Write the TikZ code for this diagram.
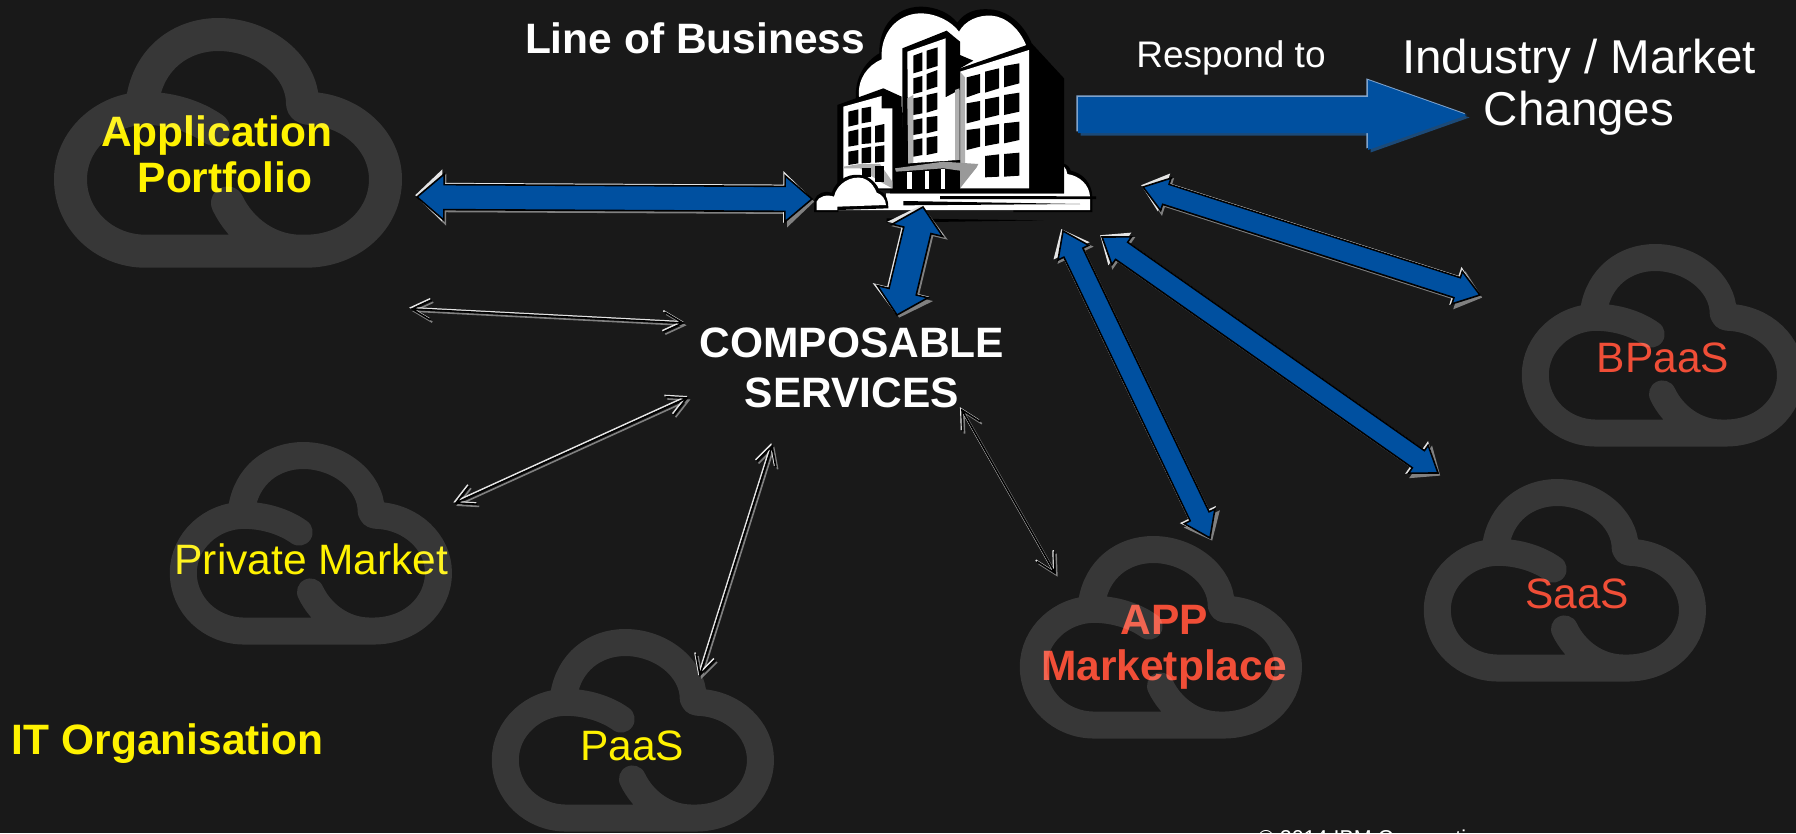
\documentclass[tikz,border=0pt]{standalone}
\usepackage{fontspec}
\setmainfont{Liberation Sans}
\usetikzlibrary{calc}
\definecolor{bgc}{HTML}{191919}
\definecolor{blueA}{HTML}{0050A0}
\definecolor{hiA}{HTML}{E4E4E4}
\definecolor{loA}{HTML}{808080}
\definecolor{hiB}{HTML}{7FA3CC}
\definecolor{loB}{HTML}{1C4A78}
\definecolor{redT}{HTML}{F04E37}
\definecolor{bldgray}{HTML}{B0B0B0}
\tikzset{
  x=1pt,y=-1pt,
  lab/.style={inner sep=0pt,outer sep=0pt,align=center,font=\fontsize{42.5}{46}\selectfont},
  labb/.style={lab,font=\fontsize{42.5}{46}\selectfont\bfseries},
}
% cloud outline: left, top of the outer box, scale, line width
\newcommand\cloudicon[4]{%
  \begin{scope}[shift={({#1+#4/2-69*#3},{#2+#4/2-32.5*#3})},xscale=#3,yscale=#3*.985]
  \draw[draw=white,draw opacity=.135,line width=#4pt,line cap=round,line join=round]
    (142,100) .. controls (148,58) and (180,33) .. (218,33)
    .. controls (262,33) and (302,65) .. (302,103)
    .. controls (302,106) and (305,108) .. (309,108)
    .. controls (352,110) and (385,142) .. (385,180)
    .. controls (385,221) and (350,253) .. (305,253)
    -- (145,253)
    .. controls (104,253) and (70,221) .. (70,180)
    .. controls (70,140) and (105,108) .. (145,108)
    .. controls (170,108) and (195,116) .. (213,129)
    (300,253) .. controls (268,253) and (240,232) .. (227,204);
  \end{scope}}
\newcommand\getvec[2]{%
  \path let \p1=($(#2)-(#1)$), \n1={veclen(\x1,\y1)}, \n2={atan2(\y1,\x1)} in
    \pgfextra{\pgfmathsetmacro\tmpL{\n1}\global\let\vecL\tmpL\pgfmathsetmacro\tmpA{\n2}\global\let\vecA\tmpA};}
% double block arrow: from, to, shaft half, head half, head length
\newcommand\dblshape[3]{%
  (0,0) -- (#3,-#2) -- (#3,-#1) -- (\vecL-#3,-#1) -- (\vecL-#3,-#2) -- (\vecL,0)
  -- (\vecL-#3,#2) -- (\vecL-#3,#1) -- (#3,#1) -- (#3,#2) -- cycle}
\newcommand\blockarrow[5]{%
  \getvec{#1}{#2}%
  \pgfmathsetmacro\hb{#4+3}%
  \begin{scope}[shift={($(#1)+(2.2,2.6)$)},rotate=\vecA]
    \fill[loA] \dblshape{#3}{\hb}{#5};
  \end{scope}
  \begin{scope}[shift={($(#1)+(-1.8,-1.8)$)},rotate=\vecA]
    \fill[hiA] \dblshape{#3}{\hb}{#5};
  \end{scope}
  \begin{scope}[shift={(#1)},rotate=\vecA]
    \draw[fill=blueA,draw=black,line width=1.6pt,line join=miter] \dblshape{#3}{#4}{#5};
  \end{scope}}
% thin double arrow with open heads
\newcommand\thinpath[2]{%
  (0,0) -- (\vecL,0) (#2,-#1) -- (0,0) -- (#2,#1) (\vecL-#2,-#1) -- (\vecL,0) -- (\vecL-#2,#1)}
\newcommand\thinarrow[2]{%
  \getvec{#1}{#2}%
  \begin{scope}[shift={($(#1)+(1.8,2.2)$)},rotate=\vecA]
    \draw[loA,line width=1.6pt] \thinpath{10}{19};
  \end{scope}
  \begin{scope}[shift={($(#1)+(-1.2,-1.3)$)},rotate=\vecA]
    \draw[hiA,line width=1.6pt] \thinpath{10}{19};
  \end{scope}
  \begin{scope}[shift={(#1)},rotate=\vecA]
    \draw[black,line width=1.6pt] \thinpath{10}{19};
  \end{scope}}
\newcommand\sglshape[3]{%
  (0,-#1) -- (\vecL-#3,-#1) -- (\vecL-#3,-#2) -- (\vecL,0) -- (\vecL-#3,#2) -- (\vecL-#3,#1) -- (0,#1) -- cycle}
\begin{document}
\begin{tikzpicture}
\useasboundingbox (0,0) rectangle (1796,833);
\clip (0,0) rectangle (1796,833);
\fill[bgc] (0,0) rectangle (1796,833);

% texts lie under the translucent clouds
\node[labb,text=yellow] (portfolio) at (217,154) {Application\\\hspace*{16pt}Portfolio};
\node[lab,text=yellow] (private) at (311.5,559.5) {Private Market};
\node[lab,text=yellow] (paas) at (632,745.5) {PaaS};
\node[labb,text=redT] (app) at (1164,647) {APP\\Marketplace};
\node[lab,text=redT] (saas) at (1577,594) {SaaS};
\node[lab,text=redT] (bpaas) at (1663,358) {BPaaS};

\cloudicon{53}{18}{1}{33}
\cloudicon{169}{442}{.81}{27}
\cloudicon{491}{629}{.81}{27}
\cloudicon{1019}{536}{.81}{27}
\cloudicon{1423}{479}{.81}{27}
\cloudicon{1521}{244}{.81}{27}

\node[labb,text=white,anchor=base west] (lob) at (525,53) {Line of Business};
\node[lab,text=white,anchor=base,font=\fontsize{37}{40}\selectfont] (respond) at (1231,67) {Respond to};
\node[lab,text=white,font=\fontsize{47.5}{52}\selectfont] (industry) at (1579,87) {Industry / Market\\Changes};
\node[labb,text=white,font=\fontsize{42.5}{50}\selectfont\bfseries] (composable) at (852,368) {COMPOSABLE\\SERVICES};
\node[labb,text=yellow,anchor=base west] (itorg) at (12,754) {IT Organisation};
\node[lab,text=white,anchor=base west,font=\fontsize{21.5}{24}\selectfont] (copy) at (1258,845.5) {© 2014 IBM Corporation};

% building icon (drawn in 3x crop coordinates)
\begin{scope}[shift={(780,0)},scale=1/3]
  % back cloud
  \fill[black] (228,300) .. controls (222,235) and (255,185) .. (298,160)
    .. controls (296,80) and (345,22) .. (420,20)
    .. controls (470,20) and (510,40) .. (532,68)
    .. controls (555,35) and (590,25) .. (630,28)
    .. controls (690,32) and (735,80) .. (755,130) -- (540,400) -- cycle;
  \fill[white] (237,290) .. controls (232,235) and (265,195) .. (305,178)
    .. controls (300,100) and (350,42) .. (420,40)
    .. controls (470,40) and (515,65) .. (537,95)
    .. controls (555,62) and (595,44) .. (635,47)
    .. controls (680,50) and (720,90) .. (738,135) -- (540,400) -- cycle;
  % right cloud and base
  \fill[black] (850,490) .. controls (865,495) and (870,505) .. (872,512)
    .. controls (910,520) and (935,550) .. (937,590) -- (937,636) -- (700,636) -- (700,490) -- cycle;
  \fill[white] (852,500) .. controls (858,505) and (860,512) .. (862,522)
    .. controls (900,528) and (928,555) .. (930,590) -- (930,630) -- (175,630) -- (175,621) -- (318,617) -- (318,580) -- (852,580) -- cycle;
  % right building
  \fill[black] (540,205) -- (755,130) -- (852,235) -- (852,580) -- (330,580) -- (330,400) -- (540,300) -- cycle;
  \fill[white] (540,215) -- (747,150) -- (747,565) -- (540,565) -- cycle;
  \fill[bldgray] (540,215) -- (555,232) -- (555,540) -- (540,565) -- cycle;
  \foreach \a/\b/\c/\d/\e/\f/\g/\h in {
    560/232/600/222/600/278/560/292, 615/215/657/205/657/265/615/278, 672/198/718/190/718/250/672/262,
    560/310/600/303/600/360/560/370, 615/298/657/290/657/345/615/355, 672/285/718/278/718/335/672/345,
    560/390/600/385/600/440/560/450, 615/378/657/372/657/430/615/438, 672/370/718/365/718/420/672/430,
    615/468/657/463/657/530/615/532, 672/462/718/458/718/527/672/530}
    \fill[black] (\a,\b) -- (\c,\d) -- (\e,\f) -- (\g,\h) -- cycle;
  % middle building
  \fill[black] (367,145) -- (500,92) -- (540,125) -- (540,165) -- (580,182) -- (540,205) -- (540,500) -- (367,510) -- cycle;
  \fill[white] (382,155) -- (497,115) -- (497,292) -- (538,270) -- (538,480) -- (385,490) -- cycle;
  \fill[bldgray] (382,295) -- (400,285) -- (400,488) -- (385,490) -- cycle;
  \fill[bldgray] (525,270) -- (538,265) -- (538,480) -- (525,482) -- cycle;
  \foreach \a/\b/\c/\d/\e/\f/\g/\h in {
    400/167/427/157/427/212/400/220, 440/152/473/142/473/198/440/208,
    400/235/427/228/427/275/400/282, 440/222/472/210/472/260/440/270,
    400/295/427/290/427/340/400/345, 440/285/472/278/472/328/440/338,
    400/360/427/355/427/400/400/405, 440/352/472/348/472/392/440/400,
    400/420/427/415/427/465/400/470, 440/413/472/408/472/458/440/465}
    \fill[black] (\a,\b) -- (\c,\d) -- (\e,\f) -- (\g,\h) -- cycle;
  % left building
  \fill[black] (172,315) -- (310,265) -- (365,290) -- (367,570) -- (172,570) -- cycle;
  \fill[white] (190,320) -- (305,288) -- (305,325) -- (337,325) -- (337,565) -- (190,565) -- cycle;
  \fill[bldgray] (190,500) -- (240,492) -- (300,492) -- (337,545) -- (337,565) -- (300,545) -- (240,505) -- (190,505) -- cycle;
  \foreach \a/\b/\c/\d/\e/\f/\g/\h in {
    205/335/235/328/235/373/205/380, 245/325/273/320/273/365/245/370,
    205/395/235/388/235/435/205/440, 245/385/273/380/273/430/245/432, 285/378/313/372/313/425/285/428,
    205/455/235/450/235/490/205/495, 245/445/273/440/273/488/245/490, 285/440/313/436/313/485/285/488,
    245/505/273/505/273/530/245/530, 285/498/313/498/313/545/285/545}
    \fill[black] (\a,\b) -- (\c,\d) -- (\e,\f) -- (\g,\h) -- cycle;
  % canopy with columns
  \fill[black] (340,500) -- (540,480) -- (540,570) -- (340,570) -- cycle;
  \fill[gray!80] (345,505) -- (490,485) -- (595,492) -- (590,502) -- (540,565) -- (540,512) -- (490,505) -- (348,515) -- cycle;
  \fill[white] (382,516) rectangle (395,566);
  \fill[white] (435,514) rectangle (447,566);
  \fill[white] (483,508) rectangle (495,566);
  % front little cloud
  \fill[black] (102,636) -- (103,600) .. controls (110,580) and (135,570) .. (155,578)
    .. controls (170,535) and (215,515) .. (255,528)
    .. controls (280,538) and (295,560) .. (298,572)
    .. controls (315,578) and (325,595) .. (325,625) -- (175,630) -- (175,636) -- cycle;
  \fill[white] (110,630) -- (110,605) .. controls (115,590) and (140,582) .. (162,590)
    .. controls (170,550) and (215,525) .. (250,535)
    .. controls (275,545) and (285,565) .. (290,578)
    .. controls (305,583) and (317,597) .. (318,615) -- (172,620) -- (172,630) -- cycle;
  % base streaks
  \fill[black] (480,588) -- (948,589) -- (948,597) -- (480,597) -- cycle;
  \fill[black] (370,603) -- (900,612) -- (370,616) -- cycle;
  \fill[black] (320,655) -- (790,661) -- (320,668) -- cycle;
\end{scope}

% connector ends
\coordinate (a1l) at (417,197);  \coordinate (a1r) at (812,199);
\coordinate (a2t) at (923,207);  \coordinate (a2b) at (897,315);
\coordinate (a3l) at (1078,115); \coordinate (a3r) at (1467,115);
\coordinate (a4t) at (1143,187); \coordinate (a4b) at (1480,295);
\coordinate (a5t) at (1102,237); \coordinate (a5b) at (1438,473);
\coordinate (a6t) at (1063,231); \coordinate (a6b) at (1210,538);
\coordinate (t1l) at (412,309);  \coordinate (t1r) at (683,323);
\coordinate (t2l) at (456,503);  \coordinate (t2r) at (687,398);
\coordinate (t3t) at (772,446);  \coordinate (t3b) at (700,675);
\coordinate (t4t) at (962,410);  \coordinate (t4b) at (1055,573);

\blockarrow{a1l}{a1r}{12.5}{23}{27}
\blockarrow{a2t}{a2b}{14}{26}{24}
\blockarrow{a4t}{a4b}{10.5}{17}{24}
\blockarrow{a5t}{a5b}{10.5}{17}{24}
\blockarrow{a6t}{a6b}{10.5}{17}{24}

\thinarrow{t1l}{t1r}
\thinarrow{t2l}{t2r}
\thinarrow{t3t}{t3b}
\thinarrow{t4t}{t4b}

% response arrow, single head
\getvec{a3l}{a3r}
\begin{scope}[shift={($(a3l)+(2.5,2.5)$)},rotate=\vecA]
  \fill[loB] \sglshape{18}{35}{99};
\end{scope}
\begin{scope}[shift={($(a3l)+(-1.6,-1.6)$)},rotate=\vecA]
  \fill[hiB] \sglshape{18}{35}{99};
\end{scope}
\begin{scope}[shift={(a3l)},rotate=\vecA]
  \fill[blueA] \sglshape{18}{35}{99};
\end{scope}
\end{tikzpicture}
\end{document}
